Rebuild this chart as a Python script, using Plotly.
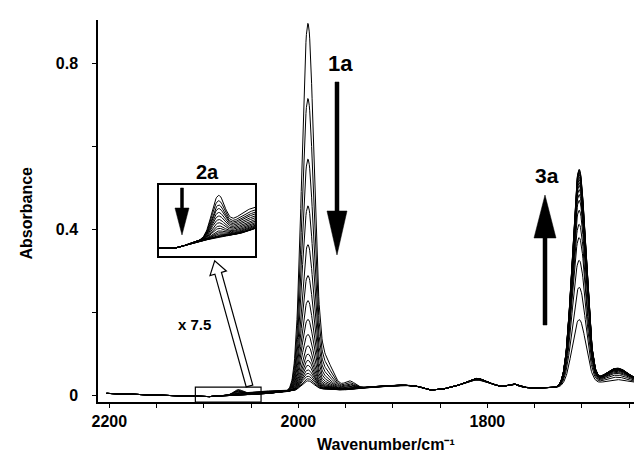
import numpy as np
import plotly.graph_objects as go

# ---------------- data ----------------
# underlying baseline of the spectra (wavenumber / absorbance)
baseline_wn = [2203, 2180, 2150, 2130, 2110, 2095, 2080, 2064, 2050, 2038, 2020, 2005,
               1990, 1970, 1950, 1930, 1911, 1890, 1875, 1862, 1850, 1835, 1822, 1811,
               1800, 1788, 1780, 1772, 1765, 1755, 1740, 1725, 1710, 1690, 1670, 1650,
               1640, 1628]
baseline_abs = [0.004, 0.002, 0.000, -0.002, -0.004, -0.004, -0.002, -0.0005, 0.0005, 0.002,
                0.007, 0.009, 0.010, 0.012, 0.012, 0.018, 0.022, 0.024, 0.022, 0.012,
                0.013, 0.020, 0.030, 0.035, 0.030, 0.021, 0.022, 0.028, 0.020, 0.017,
                0.017, 0.018, 0.021, 0.024, 0.025, 0.025, 0.027, 0.030]

# band heights above baseline for each of the successive spectra
band_1a = [0.880, 0.700, 0.555, 0.443, 0.350, 0.276, 0.216, 0.171, 0.135, 0.108,
           0.088, 0.073, 0.061, 0.050, 0.042, 0.035, 0.029, 0.024]
band_2a = [0.0118, 0.0103, 0.0091, 0.0081, 0.0070, 0.0060, 0.0050, 0.0041, 0.0032,
           0.0025, 0.0018, 0.0013, 0.0009, 0.0006, 0.0004, 0.0003, 0.0002, 0.0001]
band_3a = [0.160, 0.238, 0.303, 0.358, 0.390, 0.424, 0.448, 0.462, 0.474, 0.484,
           0.491, 0.498, 0.504, 0.510, 0.514, 0.518, 0.521, 0.523]

x_major_ticks = [2200, 2000, 1800]
x_major_text = ["2200", "2000", "1800"]
x_minor_ticks = [2150, 2100, 2050, 1950, 1900, 1850, 1750, 1700, 1650]
y_major_ticks = [0, 0.4, 0.8]
y_major_text = ["0", "0.4", "0.8"]
y_minor_ticks = [0.2, 0.6]

# ---------------- band shapes ----------------
C1A, W1A = 1990, 15
C1A_SH, W1A_SH, R1A_SH = 1972, 20, 0.084
C1A_B, W1A_B, R1A_B = 1946, 14, 0.023
C2A, W2A = 2064, 11
C2A_B, W2A_B, R2A_B = 2040, 34, 0.6
C3A, W3A = 1703, 17
C3A_SH, W3A_SH, R3A_SH = 1663, 32, 0.076
C18, W18, R18 = 1811, 20, 0.011

wn = np.arange(2203.0, 1627.9, -0.5)


def g(c, fw):
    return np.exp(-4 * np.log(2) * ((wn - c) / fw) ** 2)


base = np.interp(wn[::-1], baseline_wn[::-1], baseline_abs[::-1])[::-1]
k = np.ones(13) / 13
base = np.convolve(np.pad(base, 6, mode="edge"), k, mode="valid")

spectra = []
for a1, a2, a3 in zip(band_1a, band_2a, band_3a):
    y = (base + a1 * g(C1A, W1A) + a1 * R1A_SH * g(C1A_SH, W1A_SH)
         + a1 * R1A_B * g(C1A_B, W1A_B)
         + a2 * g(C2A, W2A) + a2 * R2A_B * g(C2A_B, W2A_B)
         + a3 * g(C3A, W3A) + a3 * R3A_SH * g(C3A_SH, W3A_SH)
         + a3 * R18 * g(C18, W18))
    spectra.append(y)

# ---------------- figure ----------------
W, H = 642, 455
L, R, T, B = 90, 0, 12, 61
PW, PH = W - L - R, H - T - B
FONT = "Liberation Sans, Arial, Helvetica, sans-serif"


def px(x):
    return (x - L) / PW


def py(y):
    return (H - B - y) / PH


fig = go.Figure()
inset_mask = (wn <= 2108) & (wn >= 2036)
for y in spectra:
    fig.add_trace(go.Scatter(x=wn, y=y, mode="lines",
                             line=dict(color="black", width=1), hoverinfo="skip"))
for y in spectra:
    fig.add_trace(go.Scatter(x=wn[inset_mask], y=y[inset_mask], mode="lines",
                             xaxis="x2", yaxis="y2",
                             line=dict(color="black", width=1), hoverinfo="skip"))

fig.update_layout(
    width=W, height=H,
    margin=dict(l=L, r=R, t=T, b=B, pad=0),
    paper_bgcolor="white", plot_bgcolor="white",
    showlegend=False,
    font=dict(family=FONT, size=16, color="black"),
    xaxis=dict(range=[2212, 1628], tickmode="array",
               tickvals=x_major_ticks, ticktext=x_major_text,
               ticks="outside", ticklen=4, tickwidth=1.3, tickcolor="black",
               minor=dict(tickmode="array", tickvals=x_minor_ticks, ticks="outside",
                          ticklen=4, tickwidth=1.3, tickcolor="black", showgrid=False),
               showline=True, linewidth=1.5, linecolor="black",
               showgrid=False, zeroline=False,
               tickfont=dict(family=FONT, size=16, weight="bold")),
    yaxis=dict(range=[-0.0169, 0.906], tickmode="array",
               tickvals=y_major_ticks, ticktext=y_major_text,
               ticks="outside", ticklen=4, tickwidth=1.3, tickcolor="black",
               minor=dict(tickmode="array", tickvals=y_minor_ticks, ticks="outside",
                          ticklen=4, tickwidth=1.3, tickcolor="black", showgrid=False),
               showline=True, linewidth=1.5, linecolor="black",
               showgrid=False, zeroline=False, ticklabelstandoff=11,
               tickfont=dict(family=FONT, size=16, weight="bold")),
    xaxis2=dict(domain=[px(151), px(247)], anchor="y2", range=[2107, 2037],
                showline=True, mirror=True, linewidth=1.5, linecolor="black",
                showticklabels=False, ticks="", showgrid=False, zeroline=False),
    yaxis2=dict(domain=[py(248), py(177)], anchor="x2", range=[-0.0065, 0.0165],
                showline=True, mirror=True, linewidth=1.5, linecolor="black",
                showticklabels=False, ticks="", showgrid=False, zeroline=False),
)


def poly(points):
    s = "M " + " L ".join(f"{px(a):.5f},{py(b):.5f}" for a, b in points) + " Z"
    return s


shapes = []
# small box marking the magnified region
shapes.append(dict(type="rect", xref="x", yref="y", x0=2109, x1=2039.5, y0=-0.0169, y1=0.019,
                   line=dict(color="black", width=1.2), fillcolor="rgba(0,0,0,0)"))
# filled arrows
for pts in [
    [(327, 74), (331, 74), (331, 203), (339, 203), (329, 247), (319, 203), (327, 203)],
    [(535, 317), (539, 317), (539, 230), (548, 230), (537, 187), (526, 230), (535, 230)],
    [(172.5, 180), (175.5, 180), (175.5, 200), (181, 200), (174, 227), (167, 200), (172.5, 200)],
]:
    shapes.append(dict(type="path", xref="paper", yref="paper", path=poly(pts),
                       fillcolor="black", line=dict(color="black", width=0.5)))
# hollow arrow from the box to the inset
tip = np.array([206.7, 252.7])
bas = np.array([241.5, 378.0])
d = tip - bas
u = d / np.linalg.norm(d)
n = np.array([-u[1], u[0]])
hs, hh, hl = 3.4, 8.5, 13.0
neck = tip - u * hl
pts = [bas + n * hs, neck + n * hs, neck + n * hh, tip, neck - n * hh, neck - n * hs, bas - n * hs]
shapes.append(dict(type="path", xref="paper", yref="paper", path=poly([tuple(p) for p in pts]),
                   fillcolor="white", line=dict(color="black", width=1.2)))
fig.update_layout(shapes=shapes)

ann = []


def text(x, y, s, size, angle=0, yanchor="middle"):
    ann.append(dict(x=px(x), y=py(y), xref="paper", yref="paper", text=s, showarrow=False,
                    xanchor="center", yanchor=yanchor, textangle=angle, borderpad=0,
                    font=dict(family=FONT, size=size, color="black", weight="bold")))


text(332, 55, "1a", 22)
text(539, 167, "3a", 21)
text(199, 164, "2a", 20)
text(186.5, 316, "x 7.5", 15)
text(378, 437, "Wavenumber/cm\u207b\u00b9", 16)
text(18.5, 205, "Absorbance", 16, angle=-90)
fig.update_layout(annotations=ann)

fig.write_html("out.html")
